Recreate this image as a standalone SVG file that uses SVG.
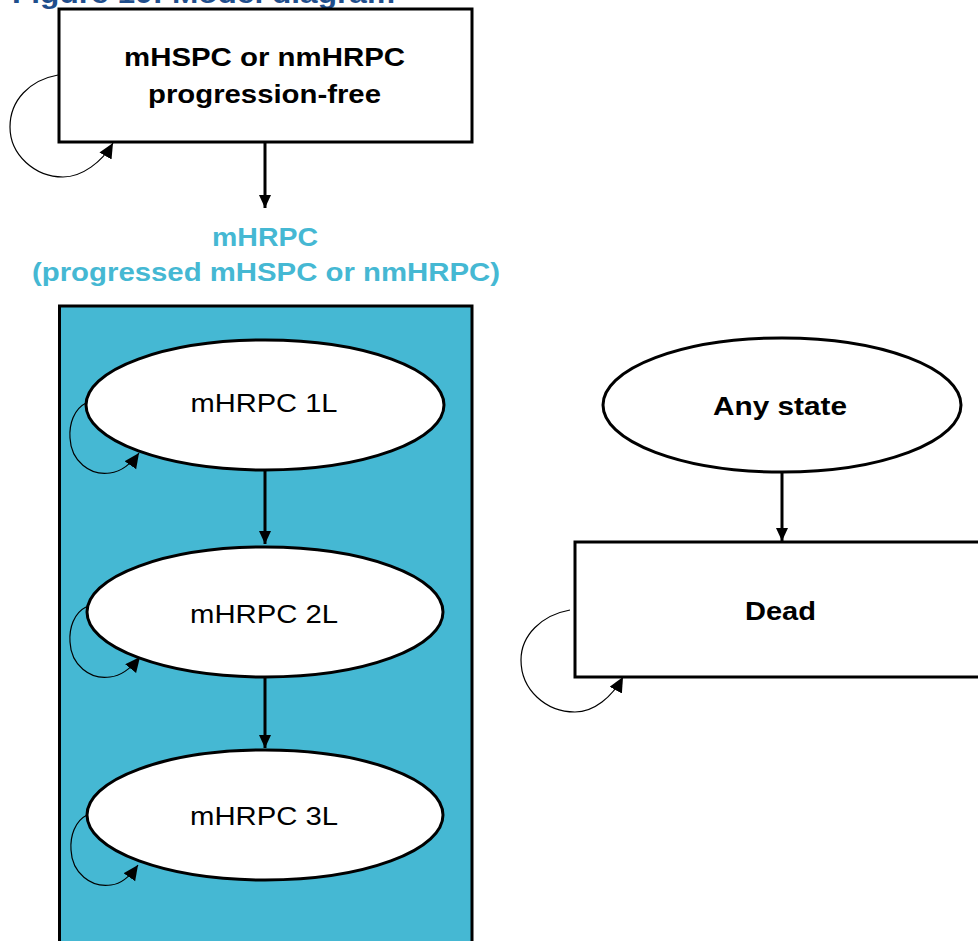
<svg xmlns="http://www.w3.org/2000/svg" width="978" height="941" viewBox="0 0 978 941">
<style>
.box{fill:#fff;stroke:#000;stroke-width:3}
.ell{fill:#fff;stroke:#000;stroke-width:3}
.bt{font-family:"Liberation Sans",Arial,sans-serif;font-weight:bold;font-size:25px;fill:#000;text-anchor:middle}
.rt{font-family:"Liberation Sans",Arial,sans-serif;font-size:26px;fill:#000;text-anchor:middle}
.ct{font-family:"Liberation Sans",Arial,sans-serif;font-weight:bold;font-size:25px;fill:#45B8D3;text-anchor:middle}
.arr{fill:none;stroke:#000;stroke-width:3;marker-end:url(#ah)}
.loop{fill:none;stroke:#000;stroke-width:1.2;marker-end:url(#lh)}
</style>
<defs>
<marker id="ah" markerUnits="userSpaceOnUse" markerWidth="14" markerHeight="14" refX="13" refY="6" orient="auto">
<path d="M0,0 L13,6 L0,12 Z" fill="#000"/>
</marker>
<marker id="lh" markerUnits="userSpaceOnUse" markerWidth="18" markerHeight="18" refX="15" refY="7" orient="auto">
<path d="M0,0 L15,7 L0,14 Z" fill="#000"/>
</marker>
</defs>
<rect width="978" height="941" fill="#fff"/>
<text x="12" y="3" font-family="Liberation Sans,Arial,sans-serif" font-weight="bold" font-size="28" fill="#1F4E8C" textLength="383" lengthAdjust="spacingAndGlyphs">Figure 10: Model diagram</text>

<g id="progression-free">
<rect class="box" x="59" y="9" width="413" height="133"/>
<text class="bt" x="264.5" y="66" textLength="281" lengthAdjust="spacingAndGlyphs">mHSPC or nmHRPC</text>
<text class="bt" x="264.5" y="103" textLength="233" lengthAdjust="spacingAndGlyphs">progression-free</text>
</g>

<g id="mhrpc-group">
<text class="ct" x="265" y="246" textLength="106" lengthAdjust="spacingAndGlyphs">mHRPC</text>
<text class="ct" x="266" y="281" textLength="468" lengthAdjust="spacingAndGlyphs">(progressed mHSPC or nmHRPC)</text>
<rect x="59.5" y="306" width="412.5" height="645" fill="#45B8D3" stroke="#000" stroke-width="3"/>
</g>

<g id="mhrpc-1l">
<ellipse class="ell" cx="265" cy="405" rx="179" ry="65"/>
<text class="rt" x="264" y="412" textLength="147" lengthAdjust="spacingAndGlyphs">mHRPC 1L</text>
</g>
<g id="mhrpc-2l">
<ellipse class="ell" cx="265" cy="612" rx="178" ry="65"/>
<text class="rt" x="264" y="623" textLength="148" lengthAdjust="spacingAndGlyphs">mHRPC 2L</text>
</g>
<g id="mhrpc-3l">
<ellipse class="ell" cx="265" cy="815" rx="178" ry="65"/>
<text class="rt" x="264" y="825" textLength="148" lengthAdjust="spacingAndGlyphs">mHRPC 3L</text>
</g>

<g id="any-state">
<ellipse class="ell" cx="782" cy="405" rx="179" ry="67"/>
<text class="bt" x="780" y="415" textLength="134" lengthAdjust="spacingAndGlyphs">Any state</text>
</g>
<g id="dead">
<rect class="box" x="575" y="542" width="430" height="135"/>
<text class="bt" x="780.5" y="620" font-size="28" textLength="71" lengthAdjust="spacingAndGlyphs">Dead</text>
</g>

<g id="connectors">
<path class="arr" d="M265,143 L265,208"/>
<path class="arr" d="M265,471 L265,544"/>
<path class="arr" d="M265,678 L265,748"/>
<path class="arr" d="M782,473 L782,541"/>
<path class="loop" d="M58,75 C30,80 10,100 10,127 C10,155 35,177 63,177 C82,177 102,162 113,143"/>
<path class="loop" d="M86,403 C74,409 69,424 70,438 C71,461 90,476 110,473 C121,472 132,463 139,453"/>
<path class="loop" d="M86,607 C74,613 69,628 70,642 C71,665 90,680 110,677 C121,676 132,667 140,657"/>
<path class="loop" d="M87,815 C75,821 70,836 71,850 C72,873 91,888 111,885 C121,884 131,875 138,865"/>
<path class="loop" d="M570,610 C542,615 521,635 521,660 C521,690 546,712 575,712 C594,712 612,697 623,677"/>
</g>
</svg>
